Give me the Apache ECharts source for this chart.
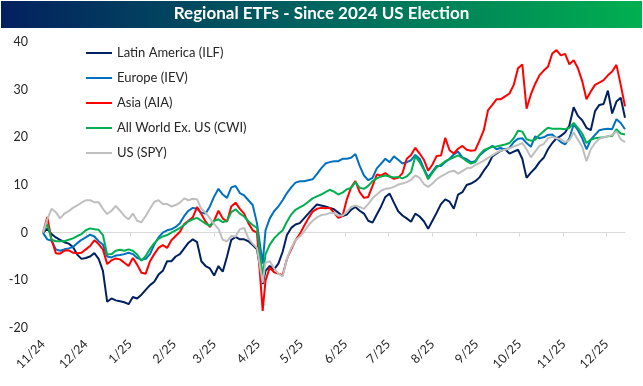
<!DOCTYPE html>
<html><head><meta charset="utf-8">
<script src="https://cdn.jsdelivr.net/npm/echarts@6/dist/echarts.min.js"></script>
<style>html,body{margin:0;padding:0;background:#fff}#c{width:643px;height:386px}</style>
</head><body><div id="c"></div>
<script>
// calendar days since 2024-11-05 (election day)
const days = [0,3,6,9,12,15,18,21,24,27,
30,33,36,39,42,45,48,51,54,57,
60,63,66,69,72,75,78,81,84,87,
90,93,96,99,102,105,108,111,114,117,
120,123,126,129,132,135,138,141,144,147,
150,154,156,159,162,165,168,171,174,177,
180,183,186,189,192,195,198,201,204,207,
210,213,216,219,222,225,228,231,234,237,
240,243,246,249,252,255,258,261,264,267,
270,273,276,279,282,285,288,291,294,297,
300,303,306,309,312,315,318,321,324,327,
330,333,336,339,342,345,348,351,354,357,
360,363,366,369,372,375,378,381,384,387,
390,393,396,399,402,405,408];

const tickDays = [0,30,61,92,120,151,181,212,242,273,304,334,365,395];
const tickLabels = ['11/24','12/24','1/25','2/25','3/25','4/25','5/25','6/25','7/25','8/25','9/25','10/25','11/25','12/25'];

const seriesNames = ['Latin America (ILF)','Europe (IEV)','Asia (AIA)','All World Ex. US (CWI)','US (SPY)'];
const seriesColors = ['#002060','#0070C0','#FF0000','#00B050','#BFBFBF'];

const ilf = [0,0.8,-0.3,-1.0,-1.5,-2.0,-2.3,-3.0,-4.6,-5.5,
-5.3,-5.0,-4.3,-5.5,-8.0,-14.5,-13.8,-14.2,-14.4,-14.6,
-15.0,-13.5,-13.8,-13.0,-12.0,-11.0,-10.3,-8.8,-8.0,-6.0,
-6.0,-5.0,-4.5,-3.3,-2.1,-1.4,-2.0,-6.0,-7.0,-7.5,
-9.0,-7.0,-8.2,-5.0,-1.5,-0.9,-1.4,-1.4,-1.8,-2.6,
-3.5,-10.8,-8.0,-7.0,-7.7,-6.5,-4.0,-0.5,1.0,1.7,
2.0,3.0,4.0,5.0,5.9,5.7,5.5,5.2,4.9,4.2,
3.5,3.8,4.8,5.4,4.6,4.0,2.5,2.1,3.8,5.5,
7.5,8.2,6.3,4.5,3.6,3.0,2.3,4.0,3.4,2.4,
0.8,2.5,4.2,6.0,7.0,6.5,5.0,8.0,8.5,10.0,
10.3,10.8,11.6,13.0,14.2,16.0,16.6,17.2,17.5,16.6,
17.0,17.4,15.5,11.5,12.6,13.5,14.8,15.7,17.5,18.8,
19.8,20.3,21.0,22.5,26.3,24.5,23.6,22.0,21.5,25.5,
26.8,27.0,29.8,25.0,27.5,28.3,24.1];

const iev = [0,-1.4,-1.7,-3.5,-3.8,-3.5,-3.3,-3.0,-2.2,-1.5,
-1.0,-0.4,-0.8,-1.8,-2.5,-5.0,-5.2,-4.8,-4.7,-4.5,
-4.2,-4.5,-5.3,-5.7,-5.5,-4.5,-2.5,-1.0,0.0,0.5,
0.7,1.2,2.0,3.5,4.6,5.2,5.0,4.2,4.0,5.5,
7.6,9.2,8.0,7.3,9.5,9.8,8.3,7.8,6.8,5.8,
2.0,-6.5,0.5,3.0,4.5,5.5,6.8,8.3,9.5,10.5,
10.8,10.8,11.0,11.2,12.3,13.5,14.5,14.8,15.0,15.0,
15.5,15.5,15.7,16.5,14.0,12.0,11.0,11.5,13.5,14.5,
15.5,14.8,16.0,15.3,14.5,14.8,15.2,16.3,15.5,13.5,
11.6,12.8,14.0,14.0,14.8,15.5,16.4,17.0,15.8,15.4,
14.8,15.0,16.2,17.0,17.6,18.2,17.5,17.8,17.3,17.8,
19.0,19.7,19.8,18.8,18.0,20.2,19.8,20.0,20.5,20.6,
19.8,19.0,18.5,19.8,22.7,21.5,19.8,17.5,19.5,20.5,
21.5,21.7,21.8,21.7,23.8,23.0,21.7];

const aia = [0,3.3,-1.5,-4.3,-4.4,-3.8,-3.7,-4.2,-4.3,-4.2,
-3.5,-2.8,-1.6,-2.4,-3.5,-6.6,-5.8,-5.4,-5.6,-6.3,
-7.0,-5.3,-6.7,-8.4,-8.6,-6.0,-4.5,-3.2,-2.6,-3.2,
-1.6,-0.7,0.2,1.8,2.5,3.2,5.4,3.9,2.3,1.2,
2.5,4.6,3.0,2.3,5.5,6.3,5.0,4.0,2.0,0.5,
0.0,-16.4,-10.0,-7.3,-8.3,-8.6,-8.9,-5.5,-3.5,-1.6,
-0.3,1.4,3.0,4.4,5.0,5.2,5.1,5.2,4.2,3.1,
3.5,7.0,9.5,10.8,8.5,7.3,7.5,9.8,12.2,12.0,
12.5,11.8,11.3,11.5,12.5,15.5,16.3,17.8,16.6,15.3,
13.0,14.3,16.1,16.2,19.9,17.3,16.6,17.6,18.2,17.4,
17.2,17.3,19.3,21.5,25.7,26.8,28.0,28.0,28.6,29.2,
31.0,34.5,35.3,26.0,29.0,31.2,33.0,34.0,34.8,37.6,
38.3,37.2,37.5,35.3,36.2,34.5,31.8,28.0,29.6,31.0,
31.5,32.0,33.0,33.8,35.2,31.0,26.5];

const cwi = [0,1.8,-1.5,-1.8,-1.8,-1.8,-1.5,-1.2,-0.7,-0.3,
0.5,0.9,0.7,0.6,-0.5,-4.6,-4.5,-3.8,-3.6,-3.8,
-3.5,-3.8,-4.6,-5.9,-4.9,-3.4,-2.2,-1.3,-0.8,-0.5,
0.0,0.5,1.0,1.6,2.4,2.8,3.1,2.5,1.9,1.4,
2.5,2.8,2.2,2.5,4.3,4.9,4.0,3.4,2.4,1.6,
1.0,-9.2,-4.5,-2.5,-1.2,-0.3,0.5,2.3,3.8,4.8,
5.3,5.8,6.5,7.2,7.6,8.0,8.5,9.0,8.6,8.0,
8.4,9.1,9.4,10.6,9.4,9.2,9.8,10.8,11.4,11.8,
12.0,11.8,11.6,11.7,11.4,11.8,12.7,16.0,14.8,13.2,
11.2,12.6,13.7,14.3,15.0,15.4,15.8,16.2,15.7,15.0,
14.5,14.8,16.3,17.3,17.7,18.0,18.1,18.3,18.5,18.8,
19.8,21.4,21.2,19.6,19.3,19.5,20.5,21.3,22.0,21.8,
21.8,21.8,21.7,22.0,23.0,22.0,20.8,18.8,19.5,19.8,
19.9,20.0,20.2,20.3,21.7,20.8,20.6];

const spy = [0,2.8,5.0,4.3,3.0,4.0,4.5,5.2,5.7,6.3,
6.8,6.8,6.4,6.4,5.0,3.9,4.6,5.6,4.6,3.5,
2.8,4.0,2.5,2.2,3.5,5.0,6.5,6.8,6.0,6.0,
5.5,5.8,6.3,7.2,6.8,7.1,7.0,5.0,4.2,3.0,
1.8,0.8,-1.5,-1.8,-0.7,-0.8,0.7,1.0,-1.2,-2.3,
-3.2,-10.5,-6.3,-6.0,-7.5,-8.6,-9.2,-5.5,-3.2,-1.6,
-0.8,0.2,1.5,2.5,3.2,3.7,3.8,4.1,4.1,3.6,
3.6,4.3,5.4,5.7,5.4,5.0,6.0,7.2,8.0,8.8,
9.2,9.3,9.6,10.1,10.3,10.6,11.1,12.0,11.5,10.2,
9.6,10.3,11.2,11.8,12.3,12.8,13.0,12.4,12.9,13.5,
13.6,14.2,14.6,15.1,15.7,16.2,16.8,17.2,17.4,17.7,
18.1,18.4,18.8,17.5,15.8,17.0,18.2,18.6,19.8,20.1,
19.8,19.6,19.0,19.4,21.0,19.5,18.0,15.0,17.5,18.8,
19.7,20.0,20.2,20.5,21.3,19.6,19.0];

const allValues = [ilf, iev, aia, cwi, spy];
const FONT = 'Lato, "Noto Sans", sans-serif';

const chart = echarts.init(document.getElementById('c'), null, {renderer: 'canvas'});
chart.setOption({
  animation: false,
  backgroundColor: '#ffffff',
  graphic: [
    {type: 'rect', left: 1, top: 1, z: 0,
     shape: {width: 641, height: 27},
     style: {fill: new echarts.graphic.LinearGradient(0, 0, 1, 0, [
       {offset: 0, color: '#03205f'}, {offset: 0.5, color: '#01665f'}, {offset: 1, color: '#00b050'}])}},
    {type: 'text', left: 'center', top: 5, z: 1,
     style: {text: 'Regional ETFs - Since 2024 US Election', fill: '#ffffff',
             font: 'bold 17px Lato, "Noto Sans", sans-serif'}}
  ],
  grid: {left: 43, right: 18, top: 42, bottom: 58, containLabel: false},
  legend: {
    orient: 'vertical', left: 81, top: 41,
    itemWidth: 26, itemHeight: 2, itemGap: 11, icon: 'rect',
    textStyle: {fontFamily: FONT, fontSize: 13, color: '#262626', lineHeight: 14},
    data: seriesNames
  },
  xAxis: [
    {type: 'value', min: 0, max: 408, position: 'bottom',
     axisLine: {show: false, onZero: false}, axisTick: {show: false}, splitLine: {show: false},
     axisLabel: {customValues: tickDays, rotate: 45, margin: 14, fontFamily: FONT, fontSize: 12.5, color: '#262626',
       formatter: v => tickLabels[tickDays.indexOf(Math.round(v))] || ''}},
    {type: 'value', min: 0, max: 408, position: 'top',
     axisLine: {show: true, onZero: true, lineStyle: {color: '#d9d9d9', width: 1}},
     axisTick: {show: true, inside: true, length: 4, customValues: tickDays, lineStyle: {color: '#d9d9d9'}},
     axisLabel: {show: false}, splitLine: {show: false}}
  ],
  yAxis: {type: 'value', min: -20, max: 40, interval: 10,
    axisLine: {show: false}, axisTick: {show: false}, splitLine: {show: false},
    axisLabel: {margin: 15, fontFamily: FONT, fontSize: 12.5, color: '#262626'}},
  series: seriesNames.map((name, k) => ({
    name, type: 'line', xAxisIndex: 0, showSymbol: false, symbol: 'none',
    color: seriesColors[k],
    lineStyle: {width: 2, color: seriesColors[k]},
    data: days.map((d, i) => [d, allValues[k][i]])
  }))
});
</script></body></html>
